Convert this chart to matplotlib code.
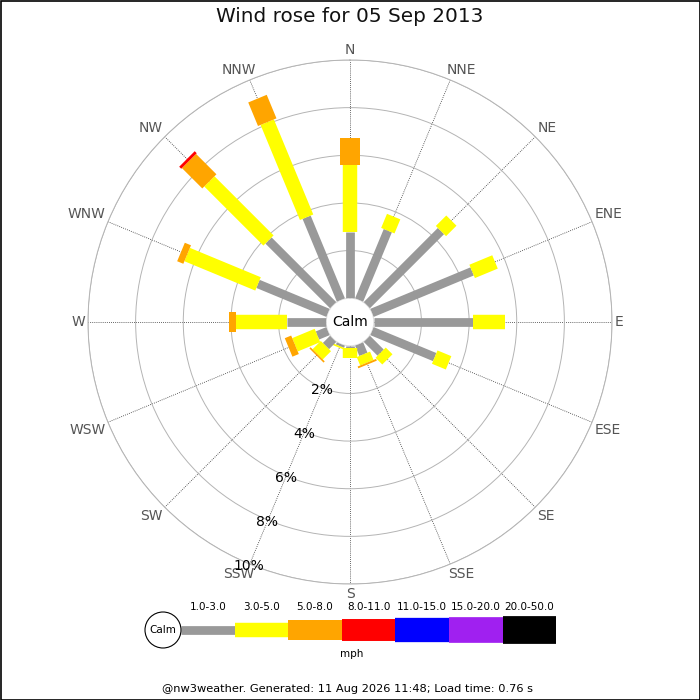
import matplotlib.pyplot as plt
import numpy as np
from matplotlib.patches import Circle, Rectangle

directions = ['N', 'NNE', 'NE', 'ENE', 'E', 'ESE', 'SE', 'SSE',
              'S', 'SSW', 'SW', 'WSW', 'W', 'WNW', 'NW', 'NNW']
speed_bins = ['1.0-3.0', '3.0-5.0', '5.0-8.0', '8.0-11.0',
              '11.0-15.0', '15.0-20.0', '20.0-50.0']
colours = ['#999999', '#ffff00', '#ffa500', '#ff0000', '#0000ff', '#a020f0', '#000000']
bar_widths = [6.3, 10.4, 14.4, 15.8, 17.5, 18.5, 20.0]  # points

# % of the day in each direction, per speed band (mph)
band_1_3 = [2.78, 3.15, 4.40, 4.55, 4.18, 2.85, 0.82, 0.47,
            0.10, 0.10, 0.43, 0.48, 1.66, 3.18, 3.84, 3.76]
band_3_5 = [2.81, 0.64, 0.62, 1.04, 1.33, 0.63, 0.40, 0.38,
            0.42, 0.07, 0.49, 1.02, 2.14, 3.22, 3.51, 4.32]
band_5_8 = [1.12, 0, 0, 0, 0, 0, 0, 0.08,
            0, 0, 0.07, 0.29, 0.27, 0.28, 1.21, 1.07]
band_8_11 = [0, 0, 0, 0, 0, 0, 0, 0,
             0, 0, 0, 0, 0, 0, 0.12, 0]
bands = [band_1_3, band_3_5, band_5_8, band_8_11]

rings = [2, 4, 6, 8, 10]

fig = plt.figure(figsize=(7, 7), dpi=100)
ax = fig.add_axes([0.1257, 0.1657, 0.7486, 0.7486], projection='polar')
ax.set_theta_zero_location('N')
ax.set_theta_direction(-1)
ax.set_rorigin(-1)
ax.set_ylim(0, 10)

angles = np.deg2rad(np.arange(16) * 22.5)
ax.set_xticks(angles)
ax.set_xticklabels([])
ax.set_yticks(rings)
ax.set_yticklabels([])
ax.tick_params(length=0)
ax.xaxis.grid(True, color='#333333', linestyle=(0, (1, 1.5)), linewidth=0.6)
ax.yaxis.grid(True, color='#b4b4b4', linestyle='-', linewidth=0.7)
ax.spines['polar'].set_color('#b4b4b4')
ax.spines['polar'].set_linewidth(0.7)
ax.spines['inner'].set_color('#dddddd')
ax.spines['inner'].set_linewidth(0.7)
ax.set_axisbelow(True)

for i, th in enumerate(angles):
    start = 0.0
    for b, band in enumerate(bands):
        v = band[i]
        if v <= 0:
            continue
        ax.plot([th, th], [start, start + v], color=colours[b],
                lw=bar_widths[b], solid_capstyle='butt', zorder=3)
        start += v

# compass labels: anchored just outside the outer ring
for th, d in zip(angles, directions):
    sx, cy = np.sin(th), np.cos(th)
    va = 'bottom' if cy > 0.01 else ('top' if cy < -0.01 else 'center')
    if abs(sx) < 0.01:
        ha, dx = 'center', 0
    elif abs(sx) < 0.5:
        ha, dx = 'center', 7 * np.sign(sx)
    else:
        ha, dx = ('left' if sx > 0 else 'right'), 0
    ax.annotate(d, xy=(th, 10.12), xytext=(dx, 0), textcoords='offset points',
                ha=ha, va=va, color='#555555', fontsize=10, annotation_clip=False)

for r in rings:
    ax.text(np.deg2rad(202.5), r + 0.07, f'{r}%', ha='center', va='center',
            fontsize=10, zorder=4)

fig.text(0.5, 1 - 322 / 700, 'Calm', ha='center', va='center', fontsize=10)
fig.text(0.5, 1 - 17 / 700, 'Wind rose for 05 Sep 2013', ha='center', va='center',
         fontsize=14.4, color='#111111')

# legend + frame in pixel coordinates
lax = fig.add_axes([0, 0, 1, 1])
lax.set_xlim(0, 700)
lax.set_ylim(700, 0)
lax.axis('off')
lax.patch.set_alpha(0)

seg_x0, seg_len, seg_y = 181, 53.6, 630
lax.add_patch(Circle((163, seg_y), 18, facecolor='white', edgecolor='black', lw=0.8, zorder=3))
lax.text(163, seg_y, 'Calm', ha='center', va='center', fontsize=7.5, zorder=4)
for i, lab in enumerate(speed_bins):
    x0 = seg_x0 + i * seg_len
    lax.plot([x0, x0 + seg_len], [seg_y, seg_y], color=colours[i],
             lw=bar_widths[i], solid_capstyle='butt')
    lax.text(x0 + seg_len / 2, 607, lab, ha='center', va='center', fontsize=7.5)
lax.text(352, 654, 'mph', ha='center', va='center', fontsize=7.5)
lax.text(348, 689, '@nw3weather. Generated: 11 Aug 2026 11:48; Load time: 0.76 s',
         ha='center', va='center', fontsize=8.2)
lax.add_patch(Rectangle((0.5, 0.5), 699, 699, fill=False, edgecolor='black', lw=1.2,
                        clip_on=False))

plt.savefig('out.png', dpi=100)
